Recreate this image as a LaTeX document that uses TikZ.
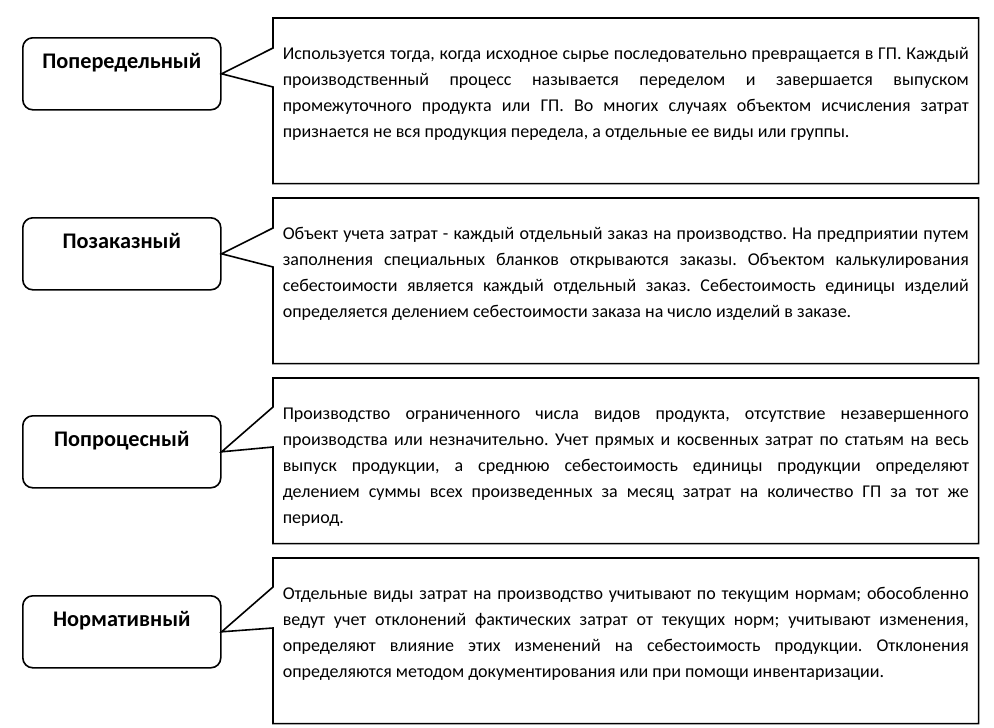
\documentclass[tikz,border=0pt]{standalone}
\usepackage{fontspec}
\setmainfont{Carlito}
\usetikzlibrary{calc}
\frenchspacing

\begin{document}
\begin{tikzpicture}[x=1pt,y=-1pt,line width=1.6pt,
 method/.style={draw,rounded corners=10pt,anchor=north west,inner sep=0pt,text width=198pt,align=center,text height=31pt,text depth=41pt,font=\fontsize{22.3}{24}\selectfont\bfseries},
 desc/.style={anchor=north west,inner xsep=9pt,inner ysep=0pt,text width=686pt,align=justify,text height=41pt,text depth=123pt,font=\fontsize{18}{26}\selectfont},
 callout/.style={draw,line join=miter}]
\useasboundingbox[fill=white](0,0)rectangle(994,728);
% row 1
\node[method](m1)at(22,37){Попередельный};
\node[desc](d1)at(273,18){Используется тогда, когда исходное сырье последовательно превращается в ГП. Каждый\linebreak производственный процесс называется переделом и завершается выпуском\linebreak промежуточного продукта или ГП. Во многих случаях объектом исчисления затрат\linebreak признается не вся продукция передела, а отдельные ее виды или группы.};
\draw[callout](m1.east)--($(d1.north west)+(0,30)$)|-(d1.north east)|-(d1.south west)--($(d1.north west)+(0,69)$)--cycle;
% row 2
\node[method](m2)at(22,217){Позаказный};
\node[desc](d2)at(273,198){Объект учета затрат - каждый отдельный заказ на производство. На предприятии путем\linebreak заполнения специальных бланков открываются заказы. Объектом калькулирования\linebreak себестоимости является каждый отдельный заказ. Себестоимость единицы изделий\linebreak определяется делением себестоимости заказа на число изделий в заказе.};
\draw[callout](m2.east)--($(d2.north west)+(0,30)$)|-(d2.north east)|-(d2.south west)--($(d2.north west)+(0,69)$)--cycle;
% row 3
\node[method](m3)at(22,415){Попроцесный};
\node[desc](d3)at(273,378){Производство ограниченного числа видов продукта, отсутствие незавершенного\linebreak производства или незначительно. Учет прямых и косвенных затрат по статьям на весь\linebreak выпуск продукции, а среднюю себестоимость единицы продукции определяют\linebreak делением суммы всех произведенных за месяц затрат на количество ГП за тот же\linebreak период.};
\draw[callout](m3.east)--($(d3.north west)+(0,29)$)|-(d3.north east)|-(d3.south west)--($(d3.north west)+(0,69)$)--cycle;
% row 4
\node[method](m4)at(22,595){Нормативный};
\node[desc](d4)at(273,558){Отдельные виды затрат на производство учитывают по текущим нормам; обособленно\linebreak ведут учет отклонений фактических затрат от текущих норм; учитывают изменения,\linebreak определяют влияние этих изменений на себестоимость продукции. Отклонения\linebreak определяются методом документирования или при помощи инвентаризации.};
\draw[callout](m4.east)--($(d4.north west)+(0,29)$)|-(d4.north east)|-(d4.south west)--($(d4.north west)+(0,70)$)--cycle;
\end{tikzpicture}
\end{document}
